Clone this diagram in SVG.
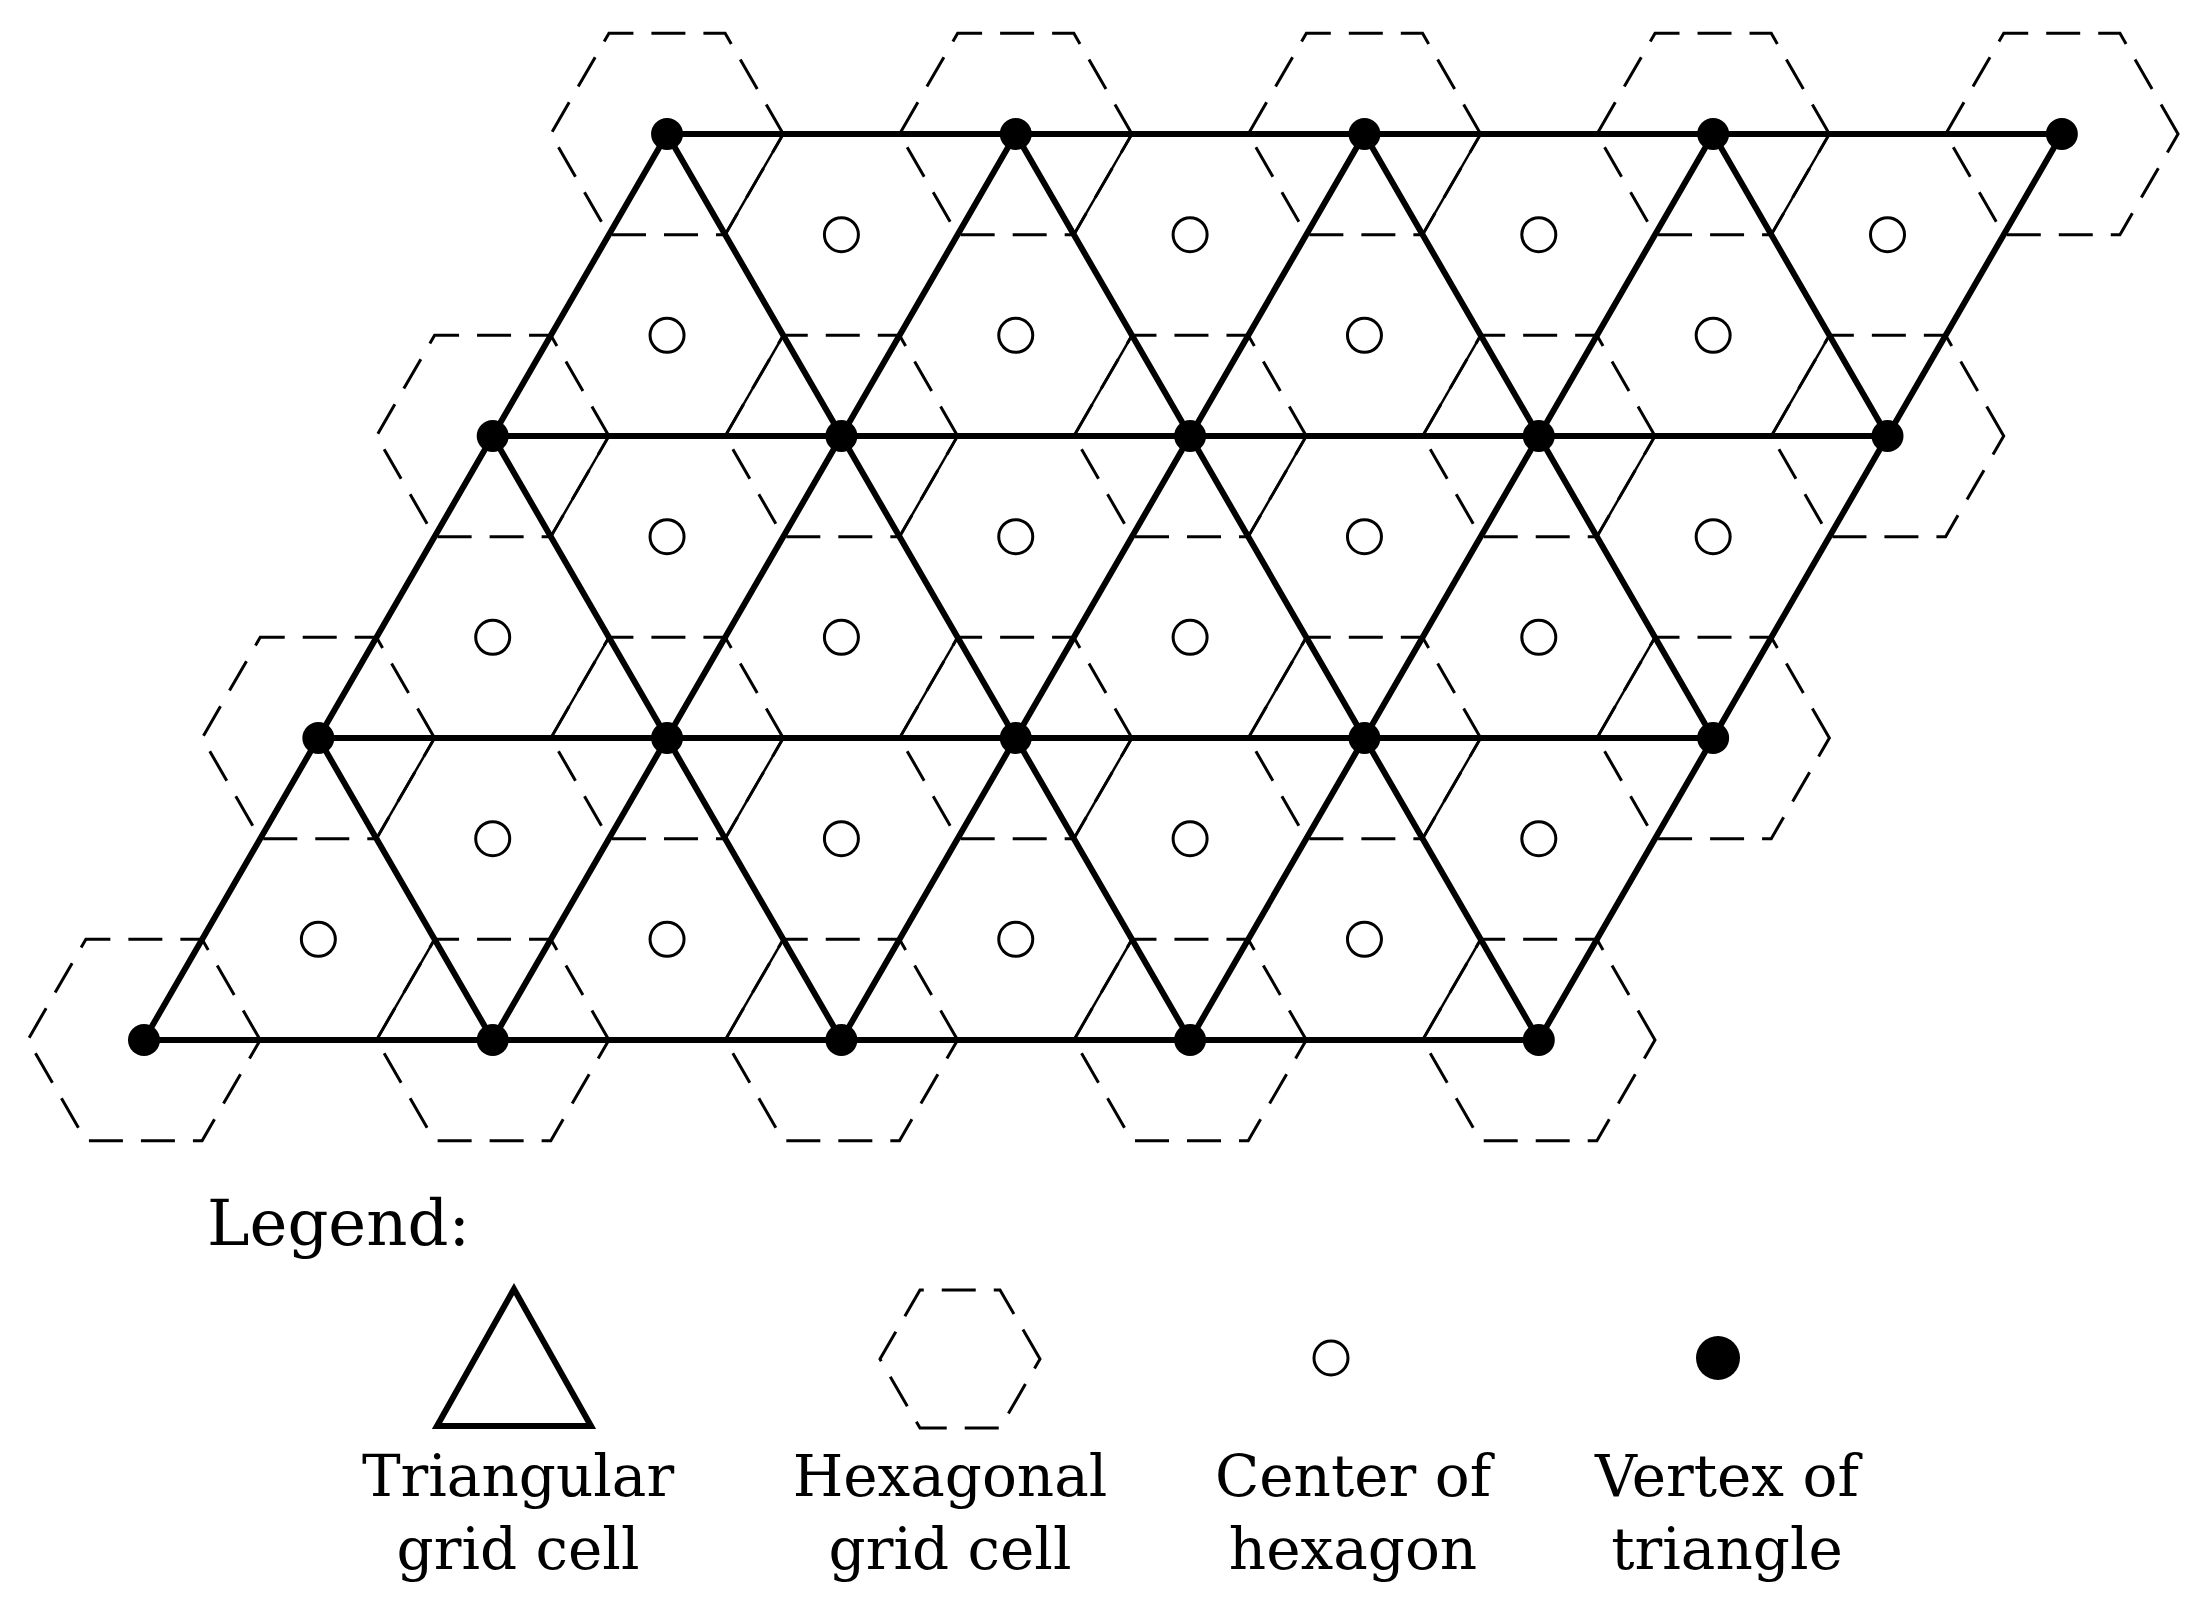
<svg xmlns="http://www.w3.org/2000/svg" xmlns:xlink="http://www.w3.org/1999/xlink" width="2197" height="1613" viewBox="0 0 2197 1613">
<style>
.hex{fill:none;stroke:#000;stroke-width:3;stroke-dasharray:34 18}
.thin{stroke:#000;stroke-width:2.5;fill:none}
.thick{stroke:#000;stroke-width:6;fill:none;stroke-linecap:round}
.ctr{fill:#fff;stroke:#000;stroke-width:3}
.vtx{fill:#000}
.lbl{font-family:"DejaVu Serif","Liberation Serif",serif;font-size:58px;fill:#000;text-anchor:middle}
</style>
<defs>
<path id="hex" class="hex" d="M116.2,0 L58.1,-100.7 L-58.1,-100.7 L-116.2,0 L-58.1,100.7 L58.1,100.7 Z"/>
<line id="eUL" class="thin" x1="-58.1" y1="-100.7" x2="-116.2" y2="0"/>
<line id="eLR" class="thin" x1="58.1" y1="100.7" x2="116.2" y2="0"/>
</defs>
<rect width="2197" height="1613" fill="#fff"/>
<g id="hexagons">
<use href="#hex" x="144" y="1040"/><use href="#hex" x="492.7" y="1040"/><use href="#hex" x="841.4" y="1040"/><use href="#hex" x="1190.1" y="1040"/><use href="#hex" x="1538.8" y="1040"/>
<use href="#hex" x="318.35" y="738"/><use href="#hex" x="667.05" y="738"/><use href="#hex" x="1015.75" y="738"/><use href="#hex" x="1364.45" y="738"/><use href="#hex" x="1713.15" y="738"/>
<use href="#hex" x="492.7" y="436"/><use href="#hex" x="841.4" y="436"/><use href="#hex" x="1190.1" y="436"/><use href="#hex" x="1538.8" y="436"/><use href="#hex" x="1887.5" y="436"/>
<use href="#hex" x="667.05" y="134"/><use href="#hex" x="1015.75" y="134"/><use href="#hex" x="1364.45" y="134"/><use href="#hex" x="1713.15" y="134"/><use href="#hex" x="2061.85" y="134"/>
</g>
<g id="inner-edges">
<use href="#eUL" x="492.7" y="1040"/><use href="#eUL" x="841.4" y="1040"/><use href="#eUL" x="1190.1" y="1040"/><use href="#eUL" x="1538.8" y="1040"/>
<use href="#eUL" x="667.05" y="738"/><use href="#eUL" x="1015.75" y="738"/><use href="#eUL" x="1364.45" y="738"/><use href="#eUL" x="1713.15" y="738"/>
<use href="#eUL" x="841.4" y="436"/><use href="#eUL" x="1190.1" y="436"/><use href="#eUL" x="1538.8" y="436"/><use href="#eUL" x="1887.5" y="436"/>
<use href="#eLR" x="318.35" y="738"/><use href="#eLR" x="667.05" y="738"/><use href="#eLR" x="1015.75" y="738"/><use href="#eLR" x="1364.45" y="738"/>
<use href="#eLR" x="492.7" y="436"/><use href="#eLR" x="841.4" y="436"/><use href="#eLR" x="1190.1" y="436"/><use href="#eLR" x="1538.8" y="436"/>
<use href="#eLR" x="667.05" y="134"/><use href="#eLR" x="1015.75" y="134"/><use href="#eLR" x="1364.45" y="134"/><use href="#eLR" x="1713.15" y="134"/>
</g>
<g id="triangles" class="thick">
<line x1="144" y1="1040" x2="1538.8" y2="1040"/>
<line x1="318.35" y1="738" x2="1713.15" y2="738"/>
<line x1="492.7" y1="436" x2="1887.5" y2="436"/>
<line x1="667.05" y1="134" x2="2061.85" y2="134"/>
<line x1="144" y1="1040" x2="667.05" y2="134"/>
<line x1="492.7" y1="1040" x2="1015.75" y2="134"/>
<line x1="841.4" y1="1040" x2="1364.45" y2="134"/>
<line x1="1190.1" y1="1040" x2="1713.15" y2="134"/>
<line x1="1538.8" y1="1040" x2="2061.85" y2="134"/>
<line x1="318.35" y1="738" x2="492.7" y2="1040"/>
<line x1="492.7" y1="436" x2="841.4" y2="1040"/>
<line x1="667.05" y1="134" x2="1190.1" y2="1040"/>
<line x1="1015.75" y1="134" x2="1538.8" y2="1040"/>
<line x1="1364.45" y1="134" x2="1713.15" y2="738"/>
<line x1="1713.15" y1="134" x2="1887.5" y2="436"/>
</g>
<g id="centers" class="ctr">
<circle cx="318.35" cy="939.3" r="17"/><circle cx="667.05" cy="939.3" r="17"/><circle cx="1015.75" cy="939.3" r="17"/><circle cx="1364.45" cy="939.3" r="17"/>
<circle cx="492.7" cy="838.7" r="17"/><circle cx="841.4" cy="838.7" r="17"/><circle cx="1190.1" cy="838.7" r="17"/><circle cx="1538.8" cy="838.7" r="17"/>
<circle cx="492.7" cy="637.3" r="17"/><circle cx="841.4" cy="637.3" r="17"/><circle cx="1190.1" cy="637.3" r="17"/><circle cx="1538.8" cy="637.3" r="17"/>
<circle cx="667.05" cy="536.7" r="17"/><circle cx="1015.75" cy="536.7" r="17"/><circle cx="1364.45" cy="536.7" r="17"/><circle cx="1713.15" cy="536.7" r="17"/>
<circle cx="667.05" cy="335.3" r="17"/><circle cx="1015.75" cy="335.3" r="17"/><circle cx="1364.45" cy="335.3" r="17"/><circle cx="1713.15" cy="335.3" r="17"/>
<circle cx="841.4" cy="234.7" r="17"/><circle cx="1190.1" cy="234.7" r="17"/><circle cx="1538.8" cy="234.7" r="17"/><circle cx="1887.5" cy="234.7" r="17"/>
</g>
<g id="vertices" class="vtx">
<circle cx="144" cy="1040" r="16"/><circle cx="492.7" cy="1040" r="16"/><circle cx="841.4" cy="1040" r="16"/><circle cx="1190.1" cy="1040" r="16"/><circle cx="1538.8" cy="1040" r="16"/>
<circle cx="318.35" cy="738" r="16"/><circle cx="667.05" cy="738" r="16"/><circle cx="1015.75" cy="738" r="16"/><circle cx="1364.45" cy="738" r="16"/><circle cx="1713.15" cy="738" r="16"/>
<circle cx="492.7" cy="436" r="16"/><circle cx="841.4" cy="436" r="16"/><circle cx="1190.1" cy="436" r="16"/><circle cx="1538.8" cy="436" r="16"/><circle cx="1887.5" cy="436" r="16"/>
<circle cx="667.05" cy="134" r="16"/><circle cx="1015.75" cy="134" r="16"/><circle cx="1364.45" cy="134" r="16"/><circle cx="1713.15" cy="134" r="16"/><circle cx="2061.85" cy="134" r="16"/>
</g>
<g id="legend">
<text x="207" y="1245" style="font-family:'DejaVu Serif','Liberation Serif',serif;font-size:64px">Legend:</text>
<g id="leg-tri"><polygon points="514,1289 437,1426 591,1426" class="thick" style="stroke-linejoin:miter"/>
<text class="lbl" x="518" y="1496">Triangular</text><text class="lbl" x="518" y="1569">grid cell</text></g>
<g id="leg-hex"><path class="hex" d="M1040,1359 L1000,1290 L920,1290 L880,1359 L920,1428 L1000,1428 Z"/>
<text class="lbl" x="950" y="1496">Hexagonal</text><text class="lbl" x="950" y="1569">grid cell</text></g>
<g id="leg-ctr"><circle class="ctr" cx="1331" cy="1358" r="17"/>
<text class="lbl" x="1353" y="1496">Center of</text><text class="lbl" x="1353" y="1569">hexagon</text></g>
<g id="leg-vtx"><circle class="vtx" cx="1718" cy="1358" r="22"/>
<text class="lbl" x="1727" y="1496">Vertex of</text><text class="lbl" x="1727" y="1569">triangle</text></g>
</g>
</svg>
